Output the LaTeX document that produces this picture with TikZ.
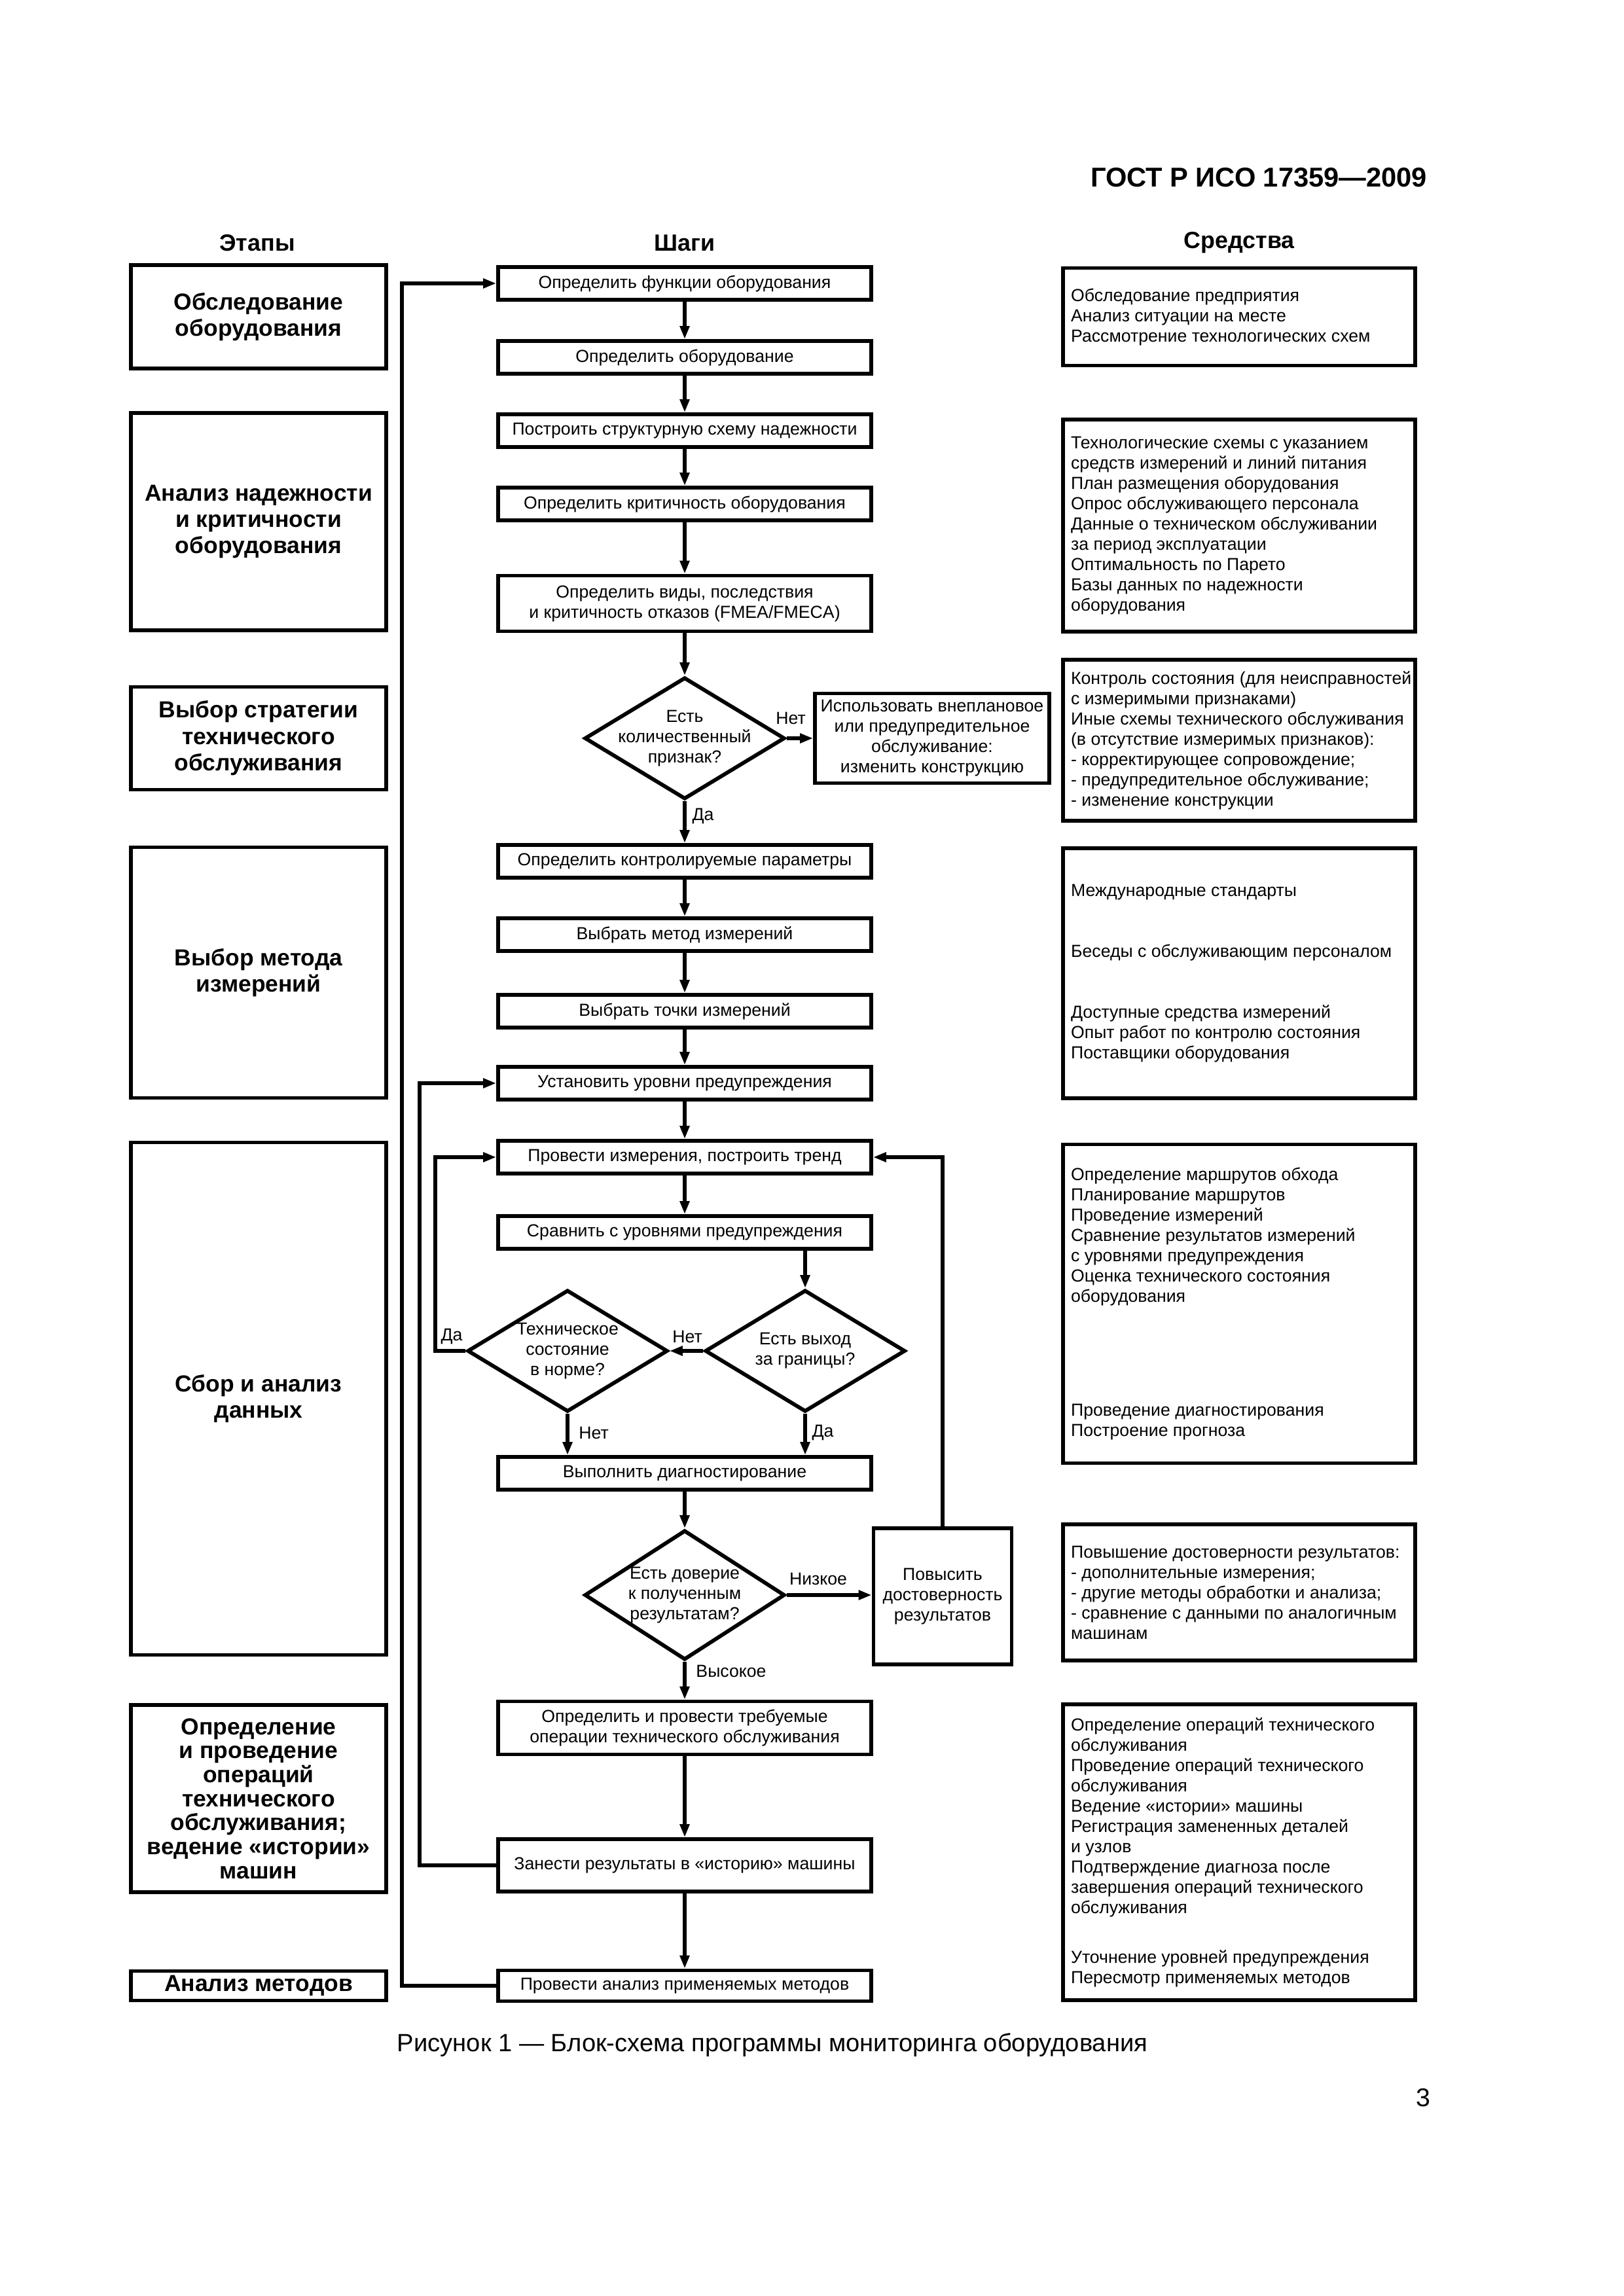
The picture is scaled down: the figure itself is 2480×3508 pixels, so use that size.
\documentclass[tikz,border=0pt]{standalone}
\usepackage{fontspec}
\setmainfont{Liberation Sans}
\usetikzlibrary{arrows.meta,shapes.geometric,calc}

\newcommand\bodyf{\fontsize{6.4pt}{7.44pt}\selectfont}
\newcommand\stagef{\fontsize{8.5pt}{9.7pt}\selectfont\bfseries}
\newcommand\stagefs{\fontsize{8.5pt}{8.8pt}\selectfont\bfseries}

\begin{document}
\begin{tikzpicture}[x=0.24pt,y=-0.24pt,
  box/.style={draw, line width=1.4pt, inner sep=0pt},
  stage/.style={box, minimum width=390*0.24pt, align=center, font=\stagef},
  stepbox/.style={box, minimum width=570*0.24pt, align=center, font=\bodyf},
  toolbox/.style={box, minimum width=538*0.24pt},
  tooltext/.style={anchor=west, align=left, font=\bodyf, inner sep=0pt},
  dia/.style={draw, line width=1.4pt, diamond, inner sep=0pt, minimum width=306*0.24pt, minimum height=186*0.24pt},
  diatext/.style={align=center, font=\bodyf, inner sep=0pt},
  lbl/.style={font=\bodyf, inner sep=0pt},
  colhead/.style={font=\fontsize{8.6pt}{10pt}\selectfont\bfseries, inner sep=0pt},
  conn/.style={line width=1.3pt},
  arr/.style={conn, -{Triangle[length=4.8pt,width=3.4pt]}},
]
\useasboundingbox (0,0) rectangle (2480,3508);

% page header
\node[font=\fontsize{10pt}{12pt}\selectfont\bfseries, anchor=east, inner sep=0pt] (gost) at (2181,271) {ГОСТ Р ИСО 17359—2009};

% column heads
\node[colhead] (h1) at (393,371) {Этапы};
\node[colhead] (h2) at (1046,371) {Шаги};
\node[colhead] (h3) at (1893,371) {Средства};

% stages
\node[stage, minimum height=158*0.24pt] (st1) at (395,484) {Обследование\\оборудования};
\node[stage, minimum height=332*0.24pt] (st2) at (395,797) {Анализ надежности\\и критичности\\оборудования};
\node[stage, minimum height=157*0.24pt] (st3) at (395,1128) {Выбор стратегии\\технического\\обслуживания};
\node[stage, minimum height=383*0.24pt] (st4) at (395,1486) {Выбор метода\\измерений};
\node[stage, minimum height=783*0.24pt] (st5) at (395,2137) {Сбор и анализ\\данных};
\node[stage, font=\stagefs, minimum height=286*0.24pt] (st6) at (395,2748) {Определение\\и проведение\\операций\\технического\\обслуживания;\\ведение «истории»\\машин};
\node[stage, minimum height=45*0.24pt] (st7) at (395,3034) {Анализ методов};

% steps
\node[stepbox, minimum height=50*0.24pt] (s1) at (1046,433) {Определить функции оборудования};
\node[stepbox, minimum height=50*0.24pt] (s2) at (1046,546) {Определить оборудование};
\node[stepbox, minimum height=50*0.24pt] (s3) at (1046,658) {Построить структурную схему надежности};
\node[stepbox, minimum height=50*0.24pt] (s4) at (1046,770) {Определить критичность оборудования};
\node[stepbox, minimum height=85*0.24pt] (s5) at (1046,922) {Определить виды, последствия\\и критичность отказов (FMEA/FMECA)};
\node[dia] (d1) at (1046,1128) {};
\node[diatext] (d1t) at (d1) {Есть\\количественный\\признак?};
\node[box, minimum width=358*0.24pt, minimum height=137*0.24pt, align=center, font=\bodyf] (nb) at (1424,1128) {Использовать внеплановое\\или предупредительное\\обслуживание:\\изменить конструкцию};
\node[stepbox, minimum height=50*0.24pt] (s6) at (1046,1316) {Определить контролируемые параметры};
\node[stepbox, minimum height=50*0.24pt] (s7) at (1046,1428) {Выбрать метод измерений};
\node[stepbox, minimum height=50*0.24pt] (s8) at (1046,1545) {Выбрать точки измерений};
\node[stepbox, minimum height=50*0.24pt] (s9) at (1046,1655) {Установить уровни предупреждения};
\node[stepbox, minimum height=50*0.24pt] (s10) at (1046,1768) {Провести измерения, построить тренд};
\node[stepbox, minimum height=50*0.24pt] (s11) at (1046,1883) {Сравнить с уровнями предупреждения};
\node[dia] (d2) at (1230,2064) {};
\node[diatext] (d2t) at (d2) {Есть выход\\за границы?};
\node[dia] (d3) at (867,2064) {};
\node[diatext] (d3t) at (d3) {Техническое\\состояние\\в норме?};
\node[stepbox, minimum height=50*0.24pt] (s12) at (1046,2251) {Выполнить диагностирование};
\node[dia, minimum height=198*0.24pt] (d4) at (1046,2437) {};
\node[diatext] (d4t) at (d4) {Есть доверие\\к полученным\\результатам?};
\node[box, minimum width=211*0.24pt, minimum height=208*0.24pt, align=center, font=\bodyf] (pov) at (1440,2439) {Повысить\\достоверность\\результатов};
\node[stepbox, minimum height=81*0.24pt] (s13) at (1046,2640) {Определить и провести требуемые\\операции технического обслуживания};
\node[stepbox, minimum height=80*0.24pt] (s14) at (1046,2850) {Занести результаты в «историю» машины};
\node[stepbox, minimum height=47*0.24pt] (s15) at (1046,3034) {Провести анализ применяемых методов};

% tools
\node[toolbox, minimum height=149*0.24pt] (t1) at (1893,484) {};
\node[tooltext] (t1t) at ([xshift=3.4pt]t1.west) {Обследование предприятия\\Анализ ситуации на месте\\Рассмотрение технологических схем};
\node[toolbox, minimum height=324*0.24pt] (t2) at (1893,803) {};
\node[tooltext] (t2t) at ([xshift=3.4pt]t2.west) {Технологические схемы с указанием\\средств измерений и линий питания\\План размещения оборудования\\Опрос обслуживающего персонала\\Данные о техническом обслуживании\\за период эксплуатации\\Оптимальность по Парето\\Базы данных по надежности\\оборудования};
\node[toolbox, minimum height=246*0.24pt] (t3) at (1893,1131) {};
\node[tooltext] (t3t) at ([xshift=3.4pt]t3.west) {Контроль состояния (для неисправностей\\с измеримыми признаками)\\Иные схемы технического обслуживания\\(в отсутствие измеримых признаков):\\- корректирующее сопровождение;\\- предупредительное обслуживание;\\- изменение конструкции};
\node[toolbox, minimum height=382*0.24pt] (t4) at (1893,1487) {};
\node[tooltext] (t4t) at ([xshift=3.4pt]t4.west) {Международные стандарты\\[14.9pt]Беседы с обслуживающим персоналом\\[14.9pt]Доступные средства измерений\\Опыт работ по контролю состояния\\Поставщики оборудования};
\node[toolbox, minimum height=487*0.24pt] (t5) at (1893,1992) {};
\node[tooltext] (t5t) at ([xshift=3.4pt]t5.west) {Определение маршрутов обхода\\Планирование маршрутов\\Проведение измерений\\Сравнение результатов измерений\\с уровнями предупреждения\\Оценка технического состояния\\оборудования\\[34.3pt]Проведение диагностирования\\Построение прогноза};
\node[toolbox, minimum height=208*0.24pt] (t6) at (1893,2433) {};
\node[tooltext] (t6t) at ([xshift=3.4pt]t6.west) {Повышение достоверности результатов:\\- дополнительные измерения;\\- другие методы обработки и анализа;\\- сравнение с данными по аналогичным\\машинам};
\node[toolbox, minimum height=452*0.24pt] (t7) at (1893,2830) {};
\node[tooltext] (t7t) at ([xshift=3.4pt]t7.west) {Определение операций технического\\обслуживания\\Проведение операций технического\\обслуживания\\Ведение «истории» машины\\Регистрация замененных деталей\\и узлов\\Подтверждение диагноза после\\завершения операций технического\\обслуживания\\[10.8pt]Уточнение уровней предупреждения\\Пересмотр применяемых методов};

% feedback x positions
\coordinate (fA) at (614,0);
\coordinate (fB) at (641,0);
\coordinate (fC) at (665,0);

% main chain
\draw[arr] (s1) -- (s2);
\draw[arr] (s2) -- (s3);
\draw[arr] (s3) -- (s4);
\draw[arr] (s4) -- (s5);
\draw[arr] (s5) -- (d1);
\draw[arr] (d1.east) -- (d1.east -| nb.west);
\draw[arr] (d1) -- (s6);
\draw[arr] (s6) -- (s7);
\draw[arr] (s7) -- (s8);
\draw[arr] (s8) -- (s9);
\draw[arr] (s9) -- (s10);
\draw[arr] (s10) -- (s11);
\draw[arr] (s11.south -| d2.north) -- (d2.north);
\draw[arr] (d2.west) -- (d3.east);
\draw[arr] (d3.south) -- (d3.south |- s12.north);
\draw[arr] (d2.south) -- (d2.south |- s12.north);
\draw[arr] (d3.west) -- (d3.west -| fC) |- (s10.west);
\draw[arr] (s12) -- (d4);
\draw[arr] (d4.east) -- (d4.east -| pov.west);
\draw[arr] (pov.north) |- (s10.east);
\draw[arr] (d4) -- (s13);
\draw[arr] (s13) -- (s14);
\draw[arr] (s14) -- (s15);
\draw[arr] (s14.west) -- (s14.west -| fB) |- (s9.west);
\draw[arr] (s15.west) -- (s15.west -| fA) |- (s1.west);

% branch labels
\node[lbl] (l1) at (1208,1097) {Нет};
\node[lbl] (l2) at (1074,1247) {Да};
\node[lbl] (l3) at (690,2042) {Да};
\node[lbl] (l4) at (1050,2042) {Нет};
\node[lbl] (l5) at (907,2189) {Нет};
\node[lbl] (l6) at (1257,2189) {Да};
\node[lbl] (l7) at (1250,2412) {Низкое};
\node[lbl] (l8) at (1117,2553) {Высокое};

% caption and page number
\node[font=\fontsize{9.15pt}{11pt}\selectfont, inner sep=0pt] (cap) at (1180,3124) {Рисунок 1 — Блок-схема программы мониторинга оборудования};
\node[font=\fontsize{9.4pt}{11pt}\selectfont, inner sep=0pt] (pg) at (2174,3205) {3};
\end{tikzpicture}
\end{document}
